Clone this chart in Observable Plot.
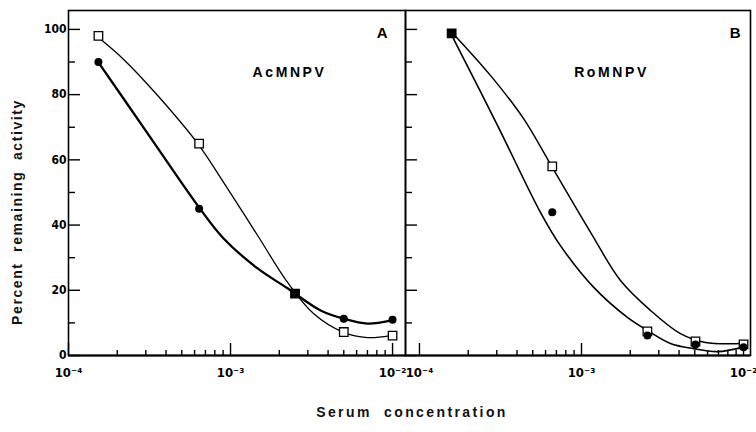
<!DOCTYPE html>
<html><head><meta charset="utf-8">
<script src="https://cdn.jsdelivr.net/npm/d3@7"></script>
<script src="https://cdn.jsdelivr.net/npm/@observablehq/plot@0.6"></script>
<style>
body{margin:0;background:#fff;}
#wrap{position:relative;width:756px;height:432px;overflow:hidden;background:#fff;}
#a{position:absolute;left:0;top:0;}
#b{position:absolute;left:405px;top:0;}
#xt{position:absolute;left:0;top:404px;width:824px;text-align:center;font:bold 14px "Liberation Sans",Arial,sans-serif;letter-spacing:2.4px;word-spacing:6px;color:#111;}
#yt{position:absolute;left:17px;top:212px;transform:translate(-50%,-50%) rotate(-90deg);white-space:nowrap;font:bold 14px "Liberation Sans",Arial,sans-serif;letter-spacing:1.6px;word-spacing:5px;color:#111;}
</style></head>
<body><div id="wrap"><div id="a"></div><div id="b"></div><div id="yt"></div><div id="xt"></div></div>
<script>
// ---- data ----
const panelLetters = ["A", "B"];
const virusNames = ["AcMNPV", "RoMNPV"];
const yTitle = "Percent remaining activity";
const xTitle = "Serum concentration";

const concA = [1.53e-4, 6.4e-4, 2.5e-3, 5.0e-3, 1.0e-2];
const circlesA = [90, 45, 19, 11.3, 11];
const squaresA = [98, 65, 19, 7.2, 6.1];

const concB = [1.58e-4, 6.6e-4, 2.55e-3, 5.05e-3, 1.0e-2];
const circlesB = [98.8, 43.9, 6.1, 3.4, 2.5];
const squaresB = [98.8, 58, 7.4, 4.3, 3.4];

// fitted curves
const fitA_circX = [1.53e-4, 3.16e-4, 6.53e-4, 9.06e-4, 1.47e-3, 2.25e-3, 3.6e-3, 4.99e-3, 7.01e-3, 9.72e-3];
const fitA_circY = [89.9, 67.3, 44.8, 35.9, 26.7, 20.6, 13.8, 11.3, 9.8, 10.7];
const fitA_sqX = [1.53e-4, 2.19e-4, 3.54e-4, 6.34e-4, 9.06e-4, 1.47e-3, 2.25e-3, 3.25e-3, 4.99e-3, 7.01e-3, 9.72e-3];
const fitA_sqY = [97.5, 90.8, 79.8, 64.7, 53.1, 36.8, 22.4, 12.9, 7.1, 5.5, 6.1];
const fitB_circX = [1.62e-4, 3.03e-4, 5.58e-4, 7.41e-4, 1.19e-3, 1.92e-3, 2.55e-3, 3.54e-3, 4.91e-3, 6.92e-3, 9.86e-3];
const fitB_circY = [97.2, 70.6, 43.9, 33.7, 20.9, 11.7, 7.7, 3.7, 2.1, 1.2, 2.5];
const fitB_sqX = [1.62e-4, 2.74e-4, 4.38e-4, 6.6e-4, 1.14e-3, 1.74e-3, 2.67e-3, 4.08e-3, 5.82e-3, 9.86e-3];
const fitB_sqY = [98.6, 85.9, 72.7, 57.7, 37.7, 23.0, 13.8, 6.7, 4.0, 3.7];

// axis ticks
const yLabelTicks = [0, 20, 40, 60, 80, 100];
const yMinorTicks = [10, 30, 50, 70, 90];
const xMajorTicks = [1e-4, 1e-3, 1e-2];
const xTickLabels = ["10\u207B\u2074", "10\u207B\u00B3", "10\u207B\u00B2"];
const minorMult = [2, 3, 4, 5, 6, 7, 8, 9];
const decades = [1e-4, 1e-3];

// ---- build ----
const xMinorTicks = decades.flatMap(d => minorMult.map(m => m * d));
const tickFont = "'Liberation Sans Narrow','DejaVu Sans Condensed','Liberation Sans',sans-serif";
const textFont = "'Liberation Sans',Arial,sans-serif";
const H = 395, MT = 10, MB = 40;
const FH = H - MT - MB;

function pts(xs, ys) { return xs.map((x, i) => ({x, y: ys[i]})); }
function markers(conc, circ, sq) {
  return conc.map((x, i) => ({x, c: circ[i], s: sq[i], both: Math.abs(circ[i] - sq[i]) < 0.5}));
}

function panel(o) {
  const FW = o.width - o.marginLeft - o.marginRight;
  const m = markers(o.conc, o.circ, o.sq);
  const marks = [
    Plot.frame({stroke: "black", strokeWidth: 1.6}),
    // inward ticks
    Plot.ruleY(yMinorTicks, {y: d => d, insetRight: FW - 7, stroke: "black", strokeWidth: 1.4}),
    Plot.ruleY(yLabelTicks, {y: d => d, insetRight: FW - 12, stroke: "black", strokeWidth: 1.4}),
    Plot.ruleX(xMinorTicks, {x: d => d, insetTop: FH - 5, stroke: "black", strokeWidth: 1.4}),
    Plot.ruleX(xMajorTicks, {x: d => d, insetTop: FH - 12, stroke: "black", strokeWidth: 1.4}),
    Plot.ruleY([0], {stroke: "black", strokeWidth: 2.2}),
    // tick labels
    Plot.axisY(yLabelTicks, {tickSize: 0, tickPadding: 2, label: null,
      tickFormat: d => o.labels ? String(d) : "", fontSize: 12, fontWeight: "bold"}),
    Plot.axisX(xMajorTicks, {tickSize: 0, tickPadding: 12, label: null,
      tickFormat: d => xTickLabels[xMajorTicks.indexOf(d)], fontSize: 13, fontWeight: "bold"}),
    // fitted curves and data
    Plot.line(pts(o.fitCX, o.fitCY), {x: "x", y: "y", curve: "catmull-rom", stroke: "black", strokeWidth: o.circWidth}),
    Plot.line(pts(o.fitSX, o.fitSY), {x: "x", y: "y", curve: "catmull-rom", stroke: "black", strokeWidth: o.sqWidth}),
    Plot.dot(m, {x: "x", y: "s", symbol: "square", r: 4.8, fill: d => d.both ? "black" : "white", stroke: "black", strokeWidth: 1.3}),
    Plot.dot(m, {x: "x", y: "c", r: 4, fill: "black"}),
    Plot.text([o.letter], {frameAnchor: "top-right", dx: o.letterDx, dy: 17, fontSize: 15, fontWeight: "bold", fontFamily: textFont, fill: "black"}),
    Plot.text([o.name], {frameAnchor: "top-left", dx: o.nameDx, dy: 57, fontSize: 14, fontWeight: "bold", fontFamily: textFont, fill: "black", textAnchor: "middle"})
  ];
  const svg = Plot.plot({
    width: o.width, height: H, marginLeft: o.marginLeft, marginRight: o.marginRight, marginTop: MT, marginBottom: MB,
    x: {type: "log", domain: o.domain},
    y: {domain: [0, 105.8]},
    style: {fontFamily: tickFont, fontSize: "13px", fontWeight: "bold", color: "black", background: "transparent", overflow: "visible"},
    marks
  });
  d3.select(svg).selectAll("text").filter(function() { return this.textContent === o.name; })
    .style("letter-spacing", "2.6px");
  return svg;
}

document.getElementById("yt").textContent = yTitle;
document.getElementById("xt").textContent = xTitle;

document.getElementById("a").append(panel({
  width: 405, marginLeft: 68, marginRight: 0, domain: [1e-4, 0.01202],
  conc: concA, circ: circlesA, sq: squaresA,
  fitCX: fitA_circX, fitCY: fitA_circY, fitSX: fitA_sqX, fitSY: fitA_sqY,
  circWidth: 2.3, sqWidth: 1.3, letter: panelLetters[0], name: virusNames[0], labels: true, letterDx: -18, nameDx: 221
}));
document.getElementById("b").append(panel({
  width: 351, marginLeft: 0, marginRight: 6, domain: [8.2e-5, 0.01104],
  conc: concB, circ: circlesB, sq: squaresB,
  fitCX: fitB_circX, fitCY: fitB_circY, fitSX: fitB_sqX, fitSY: fitB_sqY,
  circWidth: 1.6, sqWidth: 1.5, letter: panelLetters[1], name: virusNames[1], labels: false, letterDx: -10, nameDx: 206
}));
</script>
</body></html>
